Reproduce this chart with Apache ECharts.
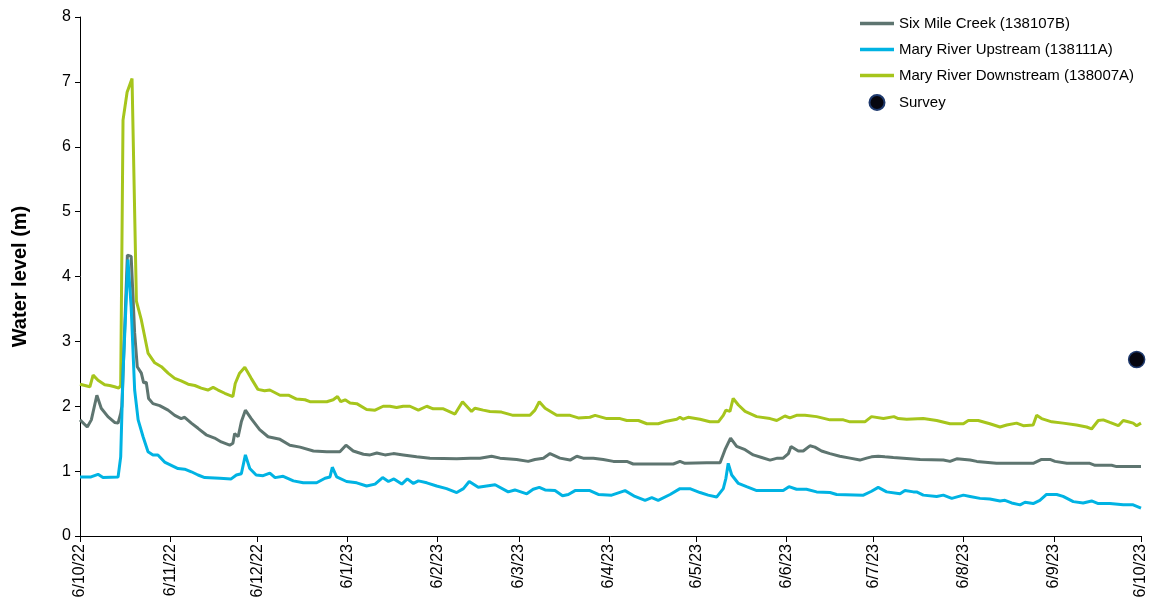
<!DOCTYPE html>
<html>
<head>
<meta charset="utf-8">
<title>Water level</title>
<script src="https://cdn.jsdelivr.net/npm/echarts@6/dist/echarts.min.js"></script>
<style>
  html, body { margin: 0; padding: 0; background: #ffffff; }
  #chart { width: 1157px; height: 605px; }
</style>
</head>
<body>
<div id="chart"></div>
<script>
// Days are counted from 6 Oct 2022; levels are in metres.
const tickDays = [0, 31, 61, 92, 123, 151, 182, 212, 243, 273, 304, 335, 365];
const tickLabels = ['6/10/22', '6/11/22', '6/12/22', '6/1/23', '6/2/23', '6/3/23', '6/4/23',
  '6/5/23', '6/6/23', '6/7/23', '6/8/23', '6/9/23', '6/10/23'];

const sixMileCreek = [
  [0, 1.79], [2.5, 1.68], [3.9, 1.79], [5.8, 2.17], [7.3, 1.97], [9.6, 1.84], [11.9, 1.75],
  [13.1, 1.74], [14.0, 1.89], [14.4, 2.0], [16.3, 4.33], [17.6, 4.31], [18.8, 3.13], [19.7, 2.61],
  [21.1, 2.51], [21.9, 2.36], [22.8, 2.37], [23.6, 2.12], [25.1, 2.04], [27.4, 2.01], [30.3, 1.94],
  [32.6, 1.86], [34.8, 1.81], [36.0, 1.83], [38.3, 1.74], [40.6, 1.66], [43.4, 1.56], [46.3, 1.51],
  [48.6, 1.45], [51.5, 1.40], [52.6, 1.43], [53.2, 1.58], [54.4, 1.53], [55.5, 1.76], [56.9, 1.94],
  [58.9, 1.81], [61.8, 1.64], [64.7, 1.53], [68.8, 1.49], [72.2, 1.40], [75.7, 1.37], [80.3, 1.31],
  [84.9, 1.30], [89.4, 1.30], [91.5, 1.40], [94.0, 1.31], [97.5, 1.26], [99.8, 1.25], [102.1, 1.28],
  [104.9, 1.25], [107.8, 1.27], [111.2, 1.25], [115.8, 1.22], [120.4, 1.20], [129.6, 1.19],
  [134.2, 1.20], [137.6, 1.20], [141.6, 1.23], [144.5, 1.20], [150.2, 1.18], [154.2, 1.15],
  [156.5, 1.18], [159.4, 1.20], [161.7, 1.27], [165.1, 1.20], [168.6, 1.17], [170.9, 1.23],
  [173.1, 1.20], [176.6, 1.20], [180.0, 1.18], [183.5, 1.15], [188.1, 1.15], [190.3, 1.11],
  [204.1, 1.11], [206.4, 1.15], [208.1, 1.12], [215.6, 1.13], [220.2, 1.13], [221.9, 1.33],
  [223.8, 1.51], [225.9, 1.38], [228.8, 1.33], [231.6, 1.25], [234.5, 1.21], [237.4, 1.17],
  [239.9, 1.20], [241.9, 1.20], [243.7, 1.27], [244.6, 1.38], [247.1, 1.31], [248.8, 1.31],
  [251.1, 1.39], [252.8, 1.37], [255.1, 1.31], [258.0, 1.27], [261.4, 1.23], [264.9, 1.20],
  [268.3, 1.17], [270.6, 1.20], [272.3, 1.22], [274.6, 1.23], [276.9, 1.22], [279.8, 1.21],
  [283.2, 1.20], [289.0, 1.18], [297.0, 1.17], [299.3, 1.15], [301.6, 1.19], [306.2, 1.17],
  [308.5, 1.15], [315.3, 1.12], [327.9, 1.12], [330.8, 1.18], [333.7, 1.18], [335.4, 1.15],
  [339.5, 1.12], [347.4, 1.12], [349.2, 1.09], [354.9, 1.09], [356.6, 1.07], [365, 1.07]
];

const maryUpstream = [
  [0, 0.91], [3.8, 0.91], [6.2, 0.95], [7.9, 0.90], [13.1, 0.91], [14.0, 1.22], [14.8, 2.51],
  [16.5, 4.26], [17.6, 3.53], [18.8, 2.25], [20.0, 1.79], [21.7, 1.53], [23.4, 1.30], [25.1, 1.25],
  [26.8, 1.25], [29.1, 1.14], [31.4, 1.09], [33.7, 1.04], [36.0, 1.03], [38.3, 0.99], [40.6, 0.94],
  [42.9, 0.90], [48.1, 0.89], [52.0, 0.88], [53.8, 0.94], [55.5, 0.96], [56.9, 1.25], [58.4, 1.04],
  [60.6, 0.94], [63.0, 0.93], [65.3, 0.97], [67.1, 0.90], [69.9, 0.92], [73.4, 0.85], [76.8, 0.82],
  [81.4, 0.82], [84.3, 0.89], [86.0, 0.91], [86.8, 1.06], [88.3, 0.91], [91.7, 0.84], [95.2, 0.82],
  [98.6, 0.77], [101.5, 0.80], [104.1, 0.90], [106.1, 0.84], [108.0, 0.88], [110.7, 0.80],
  [112.6, 0.88], [114.7, 0.81], [116.4, 0.85], [119.3, 0.82], [122.7, 0.77], [126.1, 0.73],
  [129.6, 0.67], [131.9, 0.73], [133.9, 0.84], [137.0, 0.75], [142.8, 0.79], [147.3, 0.68],
  [149.6, 0.71], [153.7, 0.65], [155.9, 0.72], [158.0, 0.75], [160.0, 0.71], [163.4, 0.70],
  [166.0, 0.62], [168.0, 0.64], [170.3, 0.70], [175.4, 0.70], [178.3, 0.64], [182.9, 0.63],
  [187.5, 0.70], [190.9, 0.61], [194.4, 0.55], [196.7, 0.59], [198.9, 0.55], [203.0, 0.64],
  [206.4, 0.73], [209.8, 0.73], [213.3, 0.67], [216.1, 0.63], [219.0, 0.60], [221.3, 0.73],
  [222.2, 0.89], [223.0, 1.12], [224.2, 0.94], [226.5, 0.81], [229.3, 0.76], [232.8, 0.70],
  [241.9, 0.70], [243.9, 0.76], [246.5, 0.72], [249.9, 0.72], [253.4, 0.68], [258.0, 0.67],
  [260.3, 0.64], [269.5, 0.63], [272.3, 0.69], [274.6, 0.75], [277.5, 0.68], [282.1, 0.65],
  [283.8, 0.70], [286.7, 0.68], [287.8, 0.68], [290.1, 0.63], [294.7, 0.61], [297.0, 0.63],
  [299.9, 0.58], [303.9, 0.63], [306.2, 0.61], [309.6, 0.58], [313.0, 0.57], [316.5, 0.54],
  [318.2, 0.55], [320.5, 0.51], [323.4, 0.48], [325.1, 0.52], [327.9, 0.50], [330.2, 0.55],
  [332.5, 0.64], [336.0, 0.64], [338.2, 0.61], [341.7, 0.53], [345.1, 0.51], [348.0, 0.54],
  [350.3, 0.50], [354.3, 0.50], [358.9, 0.48], [362.3, 0.48], [365, 0.43]
];

const maryDownstream = [
  [0, 2.34], [3.4, 2.30], [4.5, 2.48], [6.2, 2.40], [8.5, 2.33], [10.2, 2.32], [11.9, 2.30],
  [13.3, 2.28], [14.0, 2.32], [14.8, 6.41], [16.2, 6.84], [17.9, 7.05], [19.4, 3.62], [21.1, 3.33],
  [23.4, 2.82], [25.7, 2.67], [28.0, 2.61], [30.3, 2.51], [32.6, 2.43], [34.8, 2.39], [37.2, 2.34],
  [39.5, 2.32], [41.7, 2.28], [44.0, 2.25], [45.8, 2.29], [47.5, 2.25], [49.8, 2.20], [52.6, 2.15],
  [53.4, 2.35], [54.9, 2.51], [56.7, 2.60], [58.9, 2.43], [61.2, 2.26], [63.5, 2.24], [65.3, 2.25],
  [68.8, 2.17], [71.7, 2.17], [74.5, 2.11], [77.4, 2.10], [79.1, 2.07], [84.9, 2.07], [87.1, 2.10],
  [88.6, 2.15], [89.7, 2.07], [91.2, 2.10], [92.9, 2.05], [95.2, 2.04], [98.6, 1.95], [101.5, 1.94],
  [104.3, 2.00], [106.6, 2.00], [108.9, 1.98], [111.2, 2.00], [113.5, 2.00], [116.4, 1.94],
  [119.3, 2.00], [121.5, 1.96], [125.0, 1.96], [129.0, 1.88], [131.6, 2.07], [134.7, 1.92],
  [135.9, 1.97], [138.7, 1.94], [141.0, 1.92], [145.0, 1.91], [149.0, 1.86], [154.8, 1.86],
  [156.5, 1.94], [158.0, 2.07], [160.0, 1.97], [164.0, 1.86], [168.6, 1.86], [171.4, 1.82],
  [175.4, 1.83], [177.2, 1.86], [181.2, 1.81], [185.8, 1.81], [188.1, 1.78], [192.1, 1.78],
  [195.0, 1.73], [198.9, 1.73], [201.8, 1.77], [205.3, 1.80], [206.4, 1.83], [207.5, 1.80],
  [209.2, 1.83], [213.3, 1.80], [216.7, 1.76], [219.6, 1.76], [221.3, 1.86], [222.2, 1.94],
  [223.6, 1.92], [224.7, 2.12], [226.5, 2.02], [228.8, 1.92], [232.8, 1.84], [237.4, 1.81],
  [239.7, 1.78], [242.5, 1.85], [244.2, 1.82], [246.5, 1.86], [249.4, 1.86], [253.4, 1.84],
  [258.0, 1.79], [262.6, 1.79], [264.9, 1.76], [270.0, 1.76], [272.3, 1.84], [276.4, 1.81],
  [280.0, 1.84], [281.5, 1.81], [284.4, 1.80], [290.1, 1.81], [294.7, 1.78], [299.3, 1.73],
  [303.9, 1.73], [305.6, 1.78], [309.0, 1.78], [313.0, 1.73], [316.5, 1.68], [318.8, 1.71],
  [322.2, 1.74], [324.5, 1.70], [327.9, 1.71], [329.1, 1.86], [330.8, 1.81], [334.3, 1.76],
  [338.2, 1.74], [342.8, 1.71], [346.3, 1.68], [348.0, 1.65], [350.3, 1.78], [352.0, 1.79],
  [354.3, 1.75], [357.2, 1.70], [358.9, 1.78], [360.6, 1.76], [362.3, 1.74], [363.5, 1.70],
  [365, 1.74]
];

const survey = [[363.5, 2.72]];

const seriesNames = ['Six Mile Creek (138107B)', 'Mary River Upstream (138111A)',
  'Mary River Downstream (138007A)', 'Survey'];
const colors = { six: '#5e7570', up: '#00b3e3', down: '#a6c51c' };

const FONT = '"Liberation Sans", Arial, sans-serif';
// A flat bar used as the legend key for the line series
const LINE_ICON = 'path://M0 0H34V3.5H0Z';

const chart = echarts.init(document.getElementById('chart'), null, { renderer: 'canvas' });

function lineSeries(name, data, color) {
  return {
    name: name,
    type: 'line',
    data: data,
    symbol: 'none',
    smooth: false,
    lineStyle: { color: color, width: 3 },
    itemStyle: { color: color }
  };
}

chart.setOption({
  animation: false,
  backgroundColor: '#ffffff',
  textStyle: { fontFamily: FONT, color: '#000000' },
  grid: { left: 80, right: 16, top: 17, bottom: 69, containLabel: false },
  legend: {
    data: [
      { name: seriesNames[0], icon: LINE_ICON },
      { name: seriesNames[1], icon: LINE_ICON },
      { name: seriesNames[2], icon: LINE_ICON },
      { name: seriesNames[3], icon: 'circle' }
    ],
    orient: 'vertical',
    left: 855,
    top: 11,
    itemWidth: 34,
    itemHeight: 15,
    itemGap: 11,
    textStyle: { fontFamily: FONT, fontSize: 15, color: '#000000' }
  },
  xAxis: {
    type: 'value',
    min: 0,
    max: 365,
    splitLine: { show: false },
    axisLine: { lineStyle: { color: '#000000', width: 1 } },
    axisTick: { show: true, customValues: tickDays, length: 6, lineStyle: { color: '#000000' } },
    axisLabel: {
      customValues: tickDays,
      rotate: 90,
      margin: 8,
      fontSize: 16,
      fontFamily: FONT,
      color: '#000000',
      formatter: function (v) {
        const i = tickDays.indexOf(Math.round(v));
        return i >= 0 ? tickLabels[i] : '';
      }
    }
  },
  yAxis: {
    type: 'value',
    min: 0,
    max: 8,
    interval: 1,
    name: 'Water level (m)',
    nameLocation: 'middle',
    nameGap: 50,
    nameTextStyle: { fontFamily: FONT, fontSize: 20, fontWeight: 'bold', color: '#000000' },
    splitLine: { show: false },
    axisLine: { show: true, lineStyle: { color: '#000000', width: 1 } },
    axisTick: { show: true, length: 5, lineStyle: { color: '#000000' } },
    axisLabel: { fontSize: 16, fontFamily: FONT, color: '#000000', margin: 9 }
  },
  series: [
    lineSeries(seriesNames[2], maryDownstream, colors.down),
    lineSeries(seriesNames[0], sixMileCreek, colors.six),
    lineSeries(seriesNames[1], maryUpstream, colors.up),
    {
      name: seriesNames[3],
      type: 'scatter',
      data: survey,
      symbol: 'circle',
      symbolSize: 16,
      itemStyle: { color: '#06060f', borderColor: '#1f3a6e', borderWidth: 1.5, opacity: 1 },
      z: 5
    }
  ]
});
</script>
</body>
</html>
